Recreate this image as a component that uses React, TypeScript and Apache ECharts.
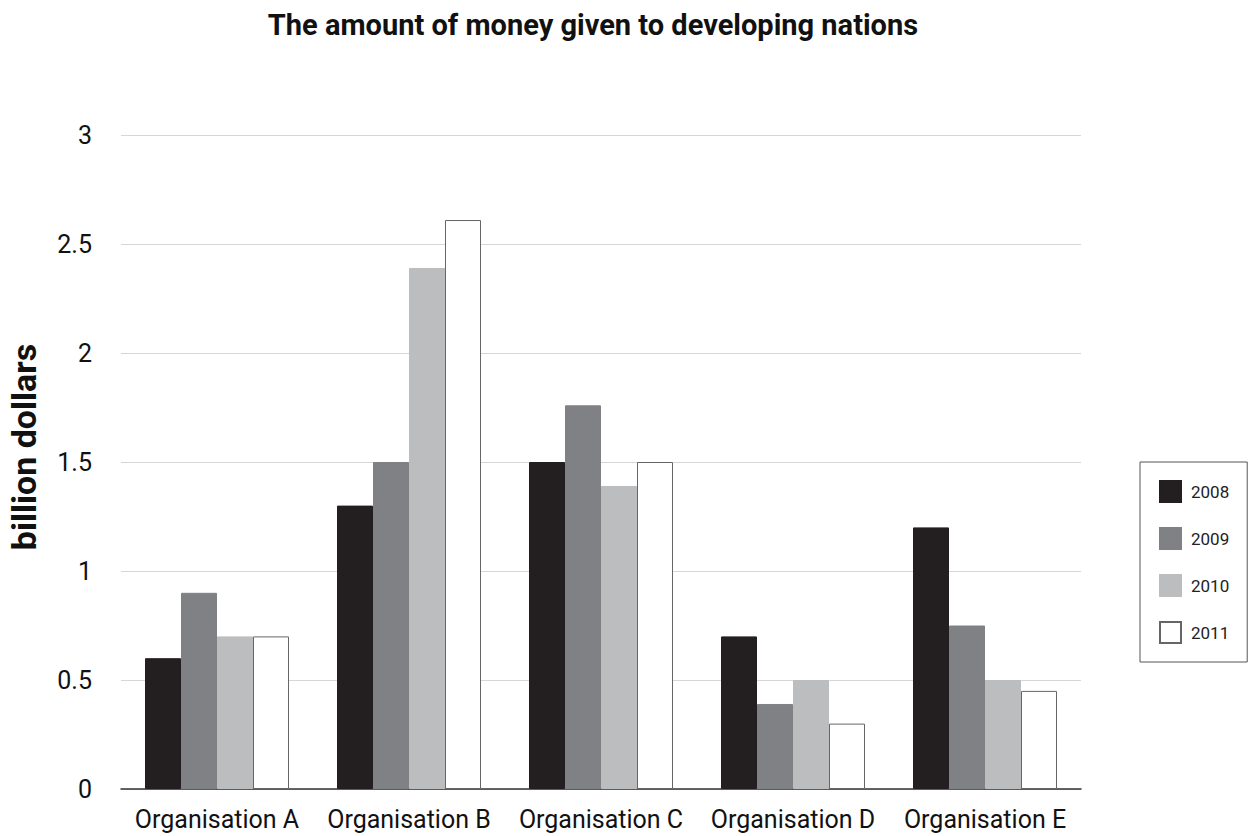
import React, { useEffect, useRef } from "react";
import * as echarts from "echarts";

const categories = ["Organisation A", "Organisation B", "Organisation C", "Organisation D", "Organisation E"];
const years = ["2008", "2009", "2010", "2011"];
const v2008 = [0.6, 1.3, 1.5, 0.7, 1.2];
const v2009 = [0.9, 1.5, 1.76, 0.39, 0.75];
const v2010 = [0.7, 2.39, 1.39, 0.5, 0.5];
const v2011 = [0.7, 2.61, 1.5, 0.3, 0.45];
const yTicks = [0, 0.5, 1, 1.5, 2, 2.5, 3];

const fills = ["#231f20", "#808184", "#bcbdbf", "#ffffff"];
const borders = ["#231f20", "#808184", "#bcbdbf", "#666666"];

export default function App() {
  const ref = useRef<HTMLDivElement>(null);
  useEffect(() => {
    if (!ref.current) return;
    const chart = echarts.init(ref.current, null, { renderer: "svg" });
    const values = [v2008, v2009, v2010, v2011];
    chart.setOption({
      animation: false,
      backgroundColor: "#ffffff",
      textStyle: { fontFamily: "Roboto" },
      title: {
        text: "The amount of money given to developing nations",
        left: 588,
        textAlign: "center",
        top: 5,
        textStyle: { fontFamily: "Roboto", fontWeight: "bold", fontSize: 29, color: "#111111" },
      },
      legend: {
        orient: "vertical",
        left: 1140,
        top: 462,
        padding: [18, 18, 18, 19],
        itemGap: 24,
        itemWidth: 21,
        itemHeight: 21,
        icon: "rect",
        borderColor: "#555555",
        borderWidth: 1,
        borderRadius: 0,
        data: years,
        textStyle: { fontFamily: "Roboto", fontSize: 17, color: "#222222", padding: [0, 0, 0, 5] },
      },
      graphic: [
        {
          type: "text",
          x: 24,
          y: 447,
          rotation: Math.PI / 2,
          style: {
            text: "billion dollars",
            fontFamily: "Roboto",
            fontWeight: "bold",
            fontSize: 34,
            fill: "#111111",
            align: "center",
            verticalAlign: "middle",
          },
        },
      ],
      grid: { left: 121, width: 960, top: 135, height: 654, containLabel: false },
      xAxis: {
        type: "category",
        data: categories,
        axisLine: { show: true, lineStyle: { color: "#333333", width: 1.5 } },
        axisTick: { show: false },
        axisLabel: { fontFamily: "Roboto", fontSize: 25, color: "#111111", margin: 18, interval: 0, hideOverlap: false },
      },
      yAxis: {
        type: "value",
        min: 0,
        max: 3,
        interval: 0.5,
        axisLine: { show: false },
        axisTick: { show: false },
        axisLabel: {
          fontFamily: "Roboto",
          fontSize: 25,
          color: "#111111",
          margin: 29,
          formatter: (v: number) => (yTicks.includes(v) ? String(v) : ""),
        },
        splitLine: { lineStyle: { color: "#d6d6d6", width: 1 } },
      },
      series: years.map((y, i) => ({
        name: y,
        type: "bar",
        data: values[i],
        barWidth: 36,
        barGap: "0%",
        itemStyle: { color: fills[i], borderColor: borders[i], borderWidth: 1 },
      })),
    });
    return () => chart.dispose();
  }, []);
  return <div ref={ref} style={{ position: "fixed", left: 0, top: 0, width: 1251, height: 836 }} />;
}
